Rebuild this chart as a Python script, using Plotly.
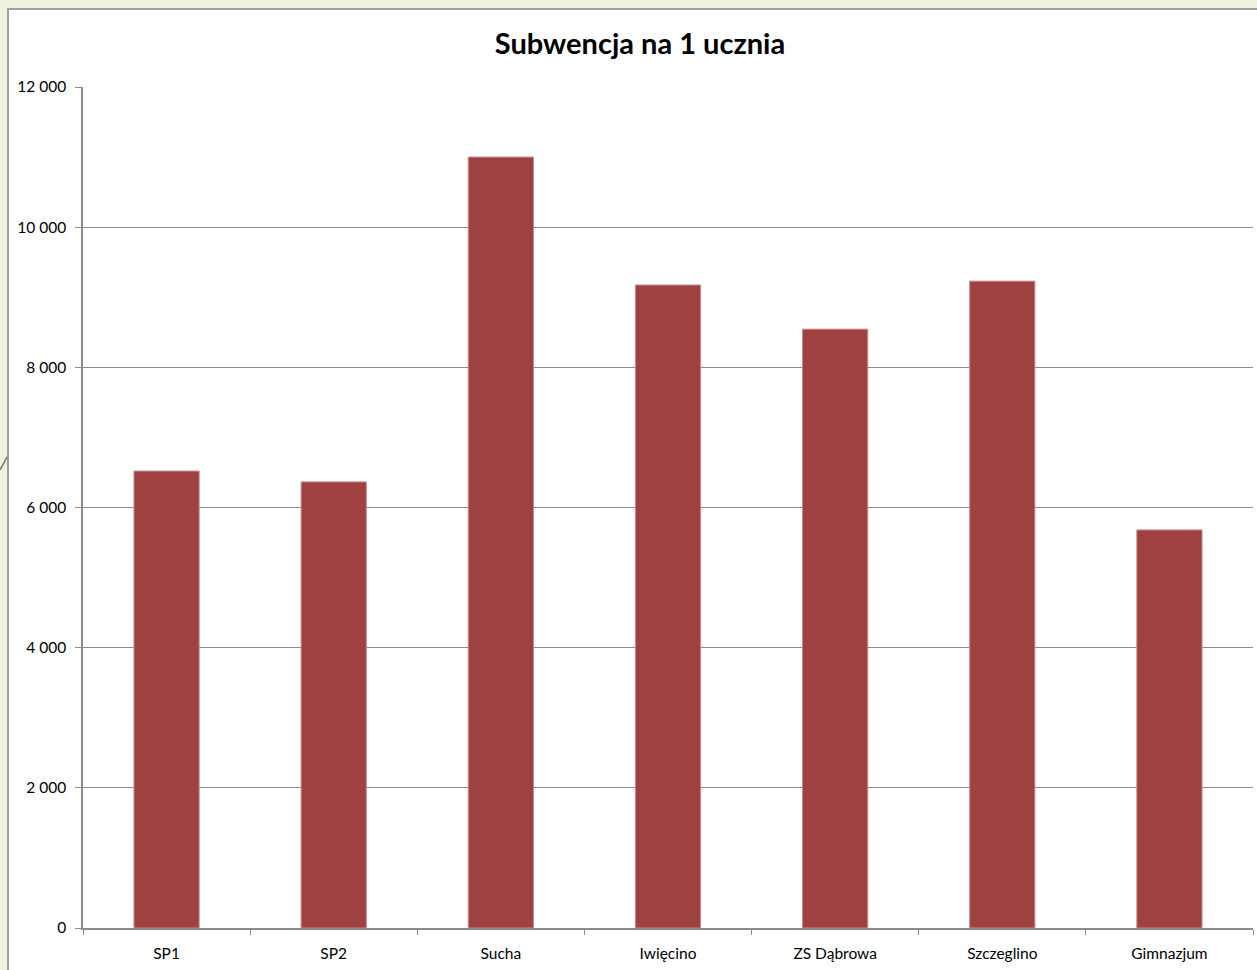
import plotly.graph_objects as go

categories = ["SP1", "SP2", "Sucha", "Iwięcino", "ZS Dąbrowa", "Szczeglino", "Gimnazjum"]
values = [6520, 6365, 11000, 9175, 8545, 9230, 5680]
y_ticks = [0, 2000, 4000, 6000, 8000, 10000, 12000]

fig = go.Figure()
fig.add_trace(go.Bar(
    x=categories, y=values,
    marker=dict(color="#9e4140", line=dict(color="#c48a8a", width=1)),
    width=0.39,
))

W, H = 1257, 970
L, R, T, B = 83, 4, 87, 42
pw = W - L - R
ph = H - T - B

def px_x(p):
    return (p - L) / pw

def px_y(p):
    return (H - B - p) / ph

fig.update_layout(
    width=W, height=H,
    margin=dict(l=L, r=R, t=T, b=B),
    paper_bgcolor="#eef2df",
    plot_bgcolor="white",
    separators=", ",
    showlegend=False,
    title=dict(text="<b>Subwencja na 1 ucznia</b>", x=px_x(640), xref="paper", xanchor="center",
               y=1 - 44 / H, yanchor="middle",
               font=dict(family="Lato, Open Sans, sans-serif", size=29, color="black")),
    font=dict(family="Lato, Open Sans, sans-serif", size=15, color="black"),
    shapes=[
        dict(type="rect", xref="paper", yref="paper", layer="below",
             x0=px_x(8), x1=px_x(1265), y0=px_y(980), y1=px_y(9),
             fillcolor="white", line=dict(color="#a0a0a0", width=2)),
        dict(type="line", xref="paper", yref="paper", layer="below",
             x0=px_x(0), y0=px_y(470), x1=px_x(7), y1=px_y(457),
             line=dict(color="#7a6f50", width=1.5)),
    ],
    xaxis=dict(
        showline=True, linecolor="#8c8c8c", linewidth=1.5,
        ticks="outside", tickson="boundaries", ticklen=5, tickcolor="#8c8c8c",
        showgrid=False, tickfont=dict(size=15.5), ticklabelstandoff=11,
    ),
    yaxis=dict(
        range=[0, 12000], tickvals=y_ticks, tickformat=",d",
        showline=True, linecolor="#8c8c8c", linewidth=1.5,
        ticks="outside", ticklen=6, tickcolor="#8c8c8c",
        showgrid=True, gridcolor="#8c8c8c", gridwidth=1,
        zeroline=False, tickfont=dict(size=15.5), ticklabelstandoff=6,
    ),
)

fig.write_html("out.html", config={"displayModeBar": False},
               post_script="document.body.style.margin='0';document.body.style.overflow='hidden';")
